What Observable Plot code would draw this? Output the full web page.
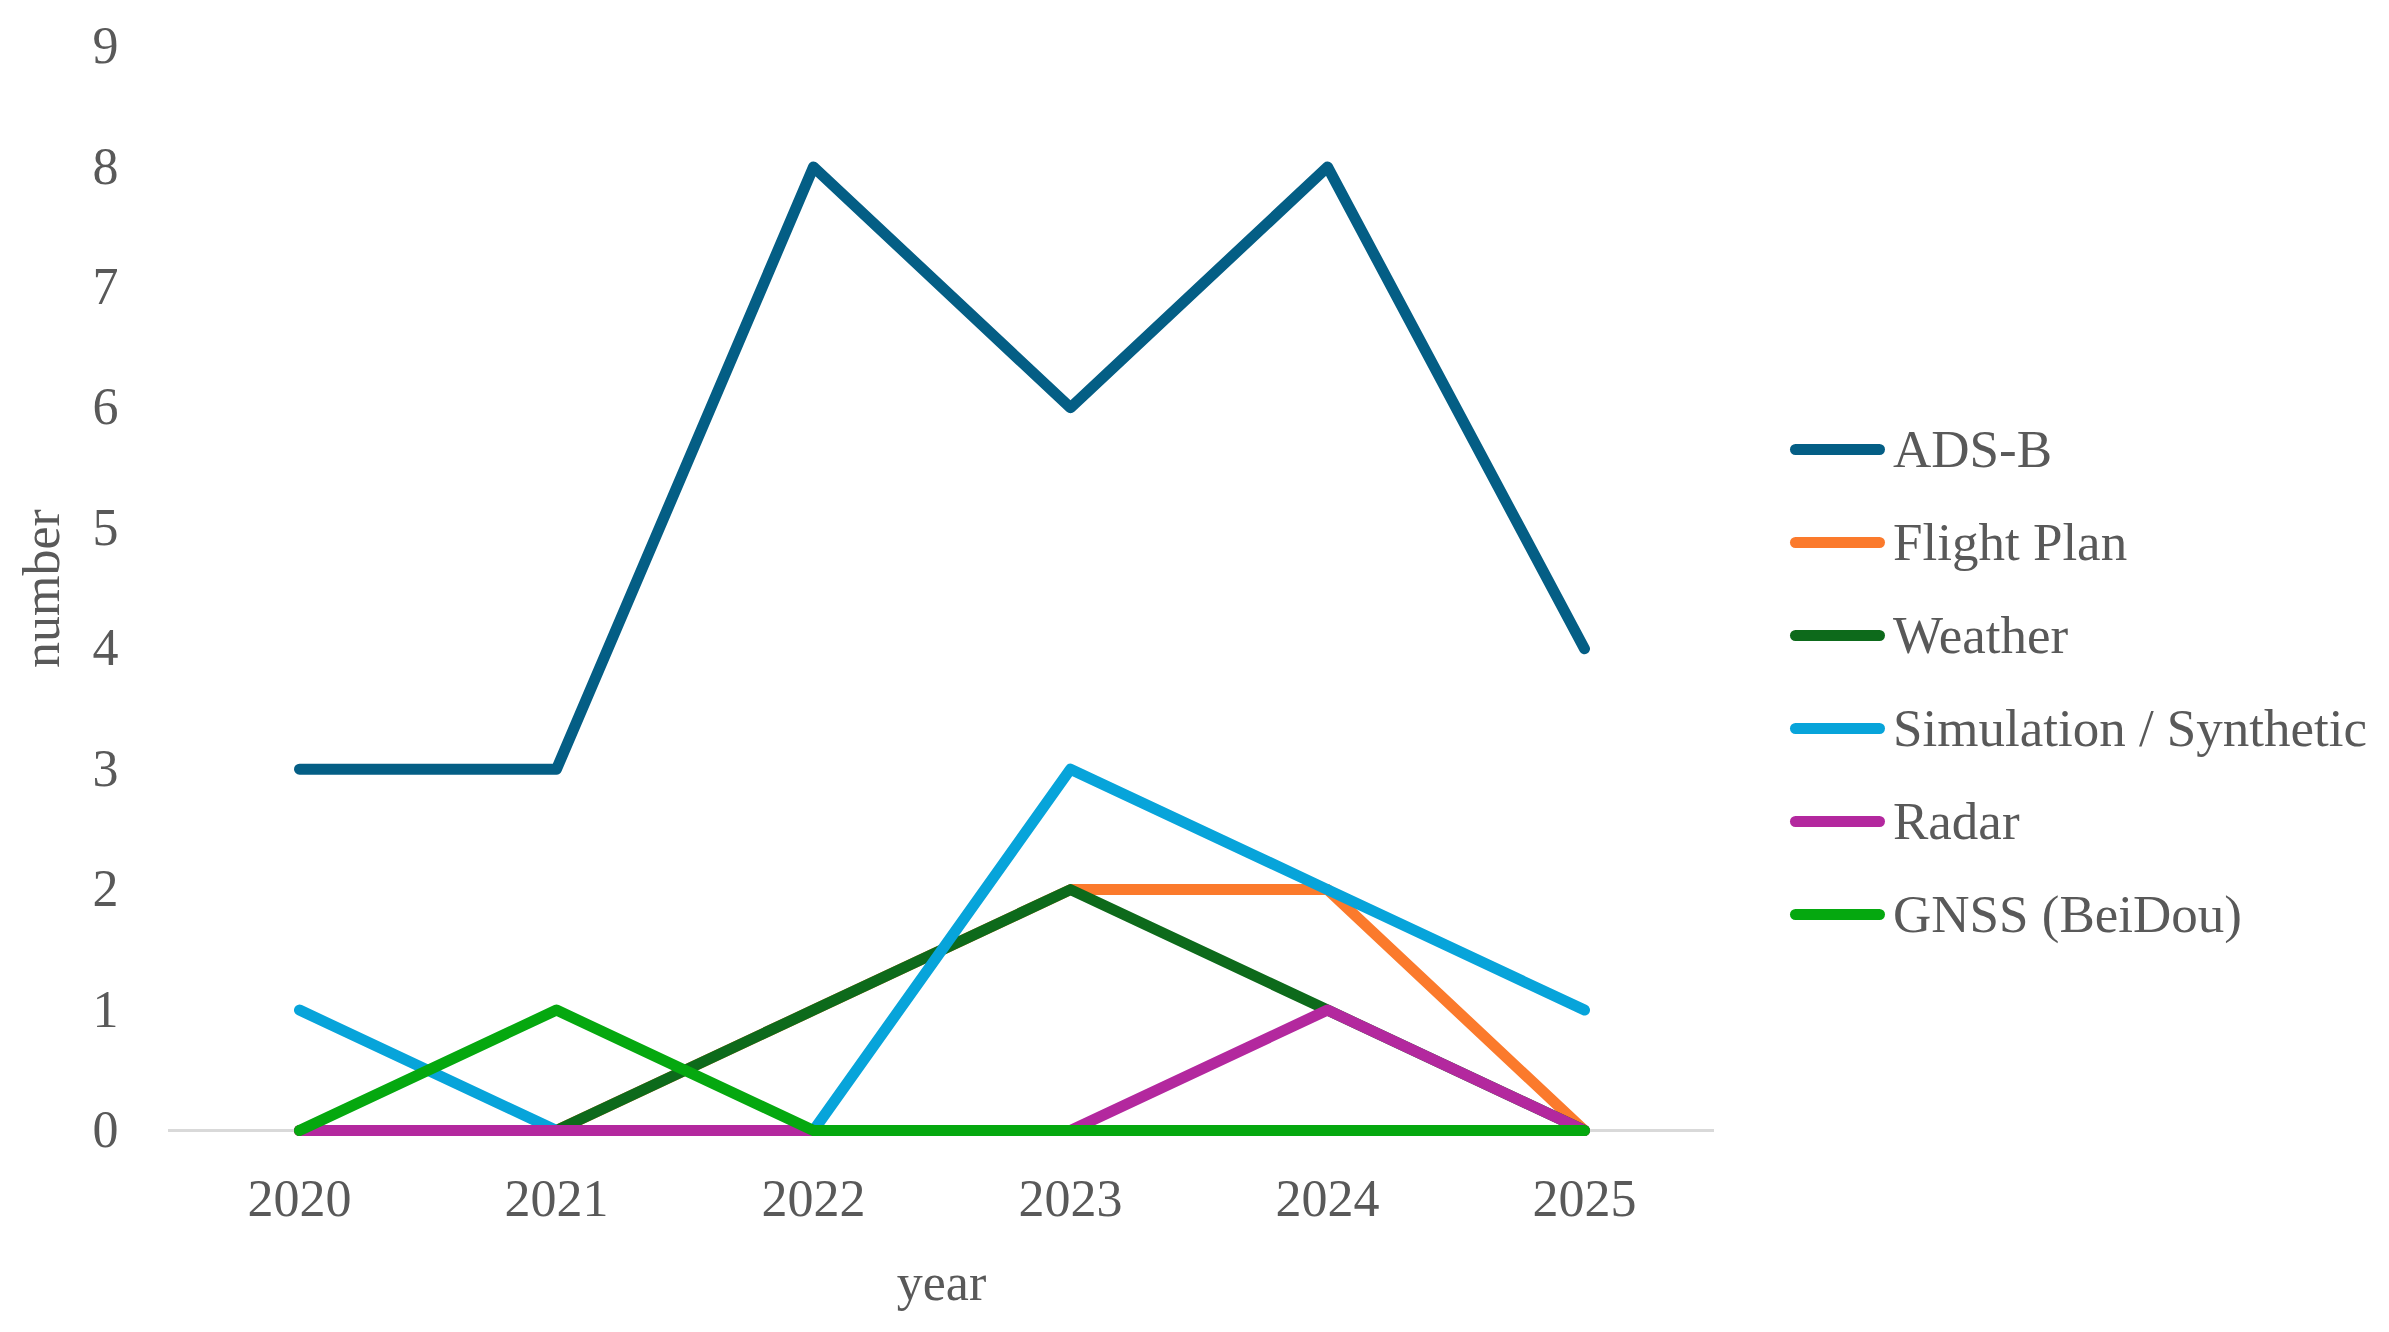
<!DOCTYPE html>
<html>
<head>
<meta charset="utf-8">
<script src="https://cdn.jsdelivr.net/npm/d3@7"></script>
<script src="https://cdn.jsdelivr.net/npm/@observablehq/plot@0.6"></script>
<style>
  html, body { margin: 0; padding: 0; background: #fff; }
  #wrap { position: relative; width: 2389px; height: 1332px; overflow: hidden; }
  #chart { position: absolute; left: 0; top: 0; }
  #legend { position: absolute; left: 1790px; top: 0; font-family: "Liberation Serif", serif; font-size: 53px; color: #595959; }
  .item { position: absolute; left: 0; display: flex; align-items: center; white-space: nowrap; transform: translateY(-50%); }
  .sw { width: 95px; height: 11px; border-radius: 6px; margin-right: 8px; }
</style>
</head>
<body>
<div id="wrap"><div id="chart"></div><div id="legend"></div></div>
<script>
const years = [2020, 2021, 2022, 2023, 2024, 2025];
const seriesNames = ["ADS-B", "Flight Plan", "Weather", "Simulation / Synthetic", "Radar", "GNSS (BeiDou)"];
const seriesColors = ["#045e85", "#fb7a2c", "#0d6a1b", "#07a4da", "#b3289e", "#05a80f"];
const adsb = [3, 3, 8, 6, 8, 4];
const flightPlan = [0, 0, 1, 2, 2, 0];
const weather = [0, 0, 1, 2, 1, 0];
const simulation = [1, 0, 0, 3, 2, 1];
const radar = [0, 0, 0, 0, 1, 0];
const gnss = [0, 1, 0, 0, 0, 0];
const yTicks = [0, 1, 2, 3, 4, 5, 6, 7, 8, 9];

const allValues = [adsb, flightPlan, weather, simulation, radar, gnss];
const rows = [];
seriesNames.forEach((name, i) => {
  years.forEach((yr, j) => rows.push({series: name, year: yr, value: allValues[i][j]}));
});

const font = "Liberation Serif, serif";
const W = 1780, H = 1332;

const lineMarks = seriesNames.map((name) =>
  Plot.line(rows.filter(d => d.series === name), {
    x: "year", y: "value", stroke: "series",
    strokeWidth: 11, strokeLinecap: "round", strokeLinejoin: "round"
  })
);

const chart = Plot.plot({
  width: W,
  height: H,
  marginLeft: 168,
  marginRight: W - 1714,
  marginTop: 46,
  marginBottom: H - 1130,
  style: { fontFamily: font, fontSize: "52px", color: "#595959", background: "transparent" },
  x: { type: "point", domain: years, padding: 0.5, label: null },
  y: { domain: [0, 9], label: null },
  color: { domain: seriesNames, range: seriesColors },
  marks: [
    Plot.axisY({ ticks: yTicks, tickSize: 0, tickPadding: 50, label: null, fontSize: 52 }),
    Plot.axisX({ tickSize: 0, tickPadding: 49, label: null, tickFormat: d => String(d), fontSize: 52 }),
    Plot.ruleY([0], { stroke: "#d9d9d9", strokeWidth: 3 }),
    ...lineMarks,
    Plot.text(["number"], { frameAnchor: "left", dx: -126, rotate: -90, textAnchor: "middle", lineAnchor: "middle", fontSize: 52, fill: "#595959" }),
    Plot.text(["year"], { frameAnchor: "bottom", dy: 153, textAnchor: "middle", lineAnchor: "middle", fontSize: 52, fill: "#595959" })
  ]
});
document.getElementById("chart").appendChild(chart);

const legend = document.getElementById("legend");
const rowTop = 449, rowGap = 93;
seriesNames.forEach((name, i) => {
  const it = document.createElement("div");
  it.className = "item";
  it.style.top = (rowTop + i * rowGap) + "px";
  const sw = document.createElement("div");
  sw.className = "sw";
  sw.style.background = seriesColors[i];
  const tx = document.createElement("span");
  tx.textContent = name;
  it.appendChild(sw);
  it.appendChild(tx);
  legend.appendChild(it);
});
</script>
</body>
</html>
